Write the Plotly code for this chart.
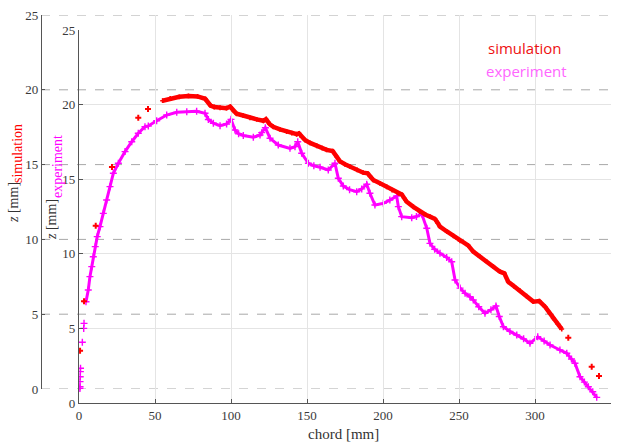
import plotly.graph_objects as go

# ---- data ----
sim_sparse_x = [0.7, 3.3, 11.0, 21.7, 39.0, 45.4, 321.9, 337.3, 342.1]
sim_sparse_y = [2.56, 5.86, 10.92, 14.84, 18.14, 18.72, 3.43, 1.49, 0.87]

sim_x = [55.0, 60.0, 66.0, 72.0, 78.0, 83.0, 86.5, 89.0, 92.8, 97.0, 99.5, 101.5, 103.7,
         108.0, 112.5, 117.0, 121.3, 123.0, 125.5, 127.8, 132.2, 136.6, 140.0, 143.2, 144.7,
         146.5, 148.7, 152.0, 156.4, 160.0, 162.9, 166.9, 169.5, 171.7, 175.0, 178.3, 183.0,
         187.0, 189.9, 191.5, 193.6, 198.0, 202.4, 206.0, 210.1, 212.3, 214.0, 215.6, 220.0,
         224.3, 228.0, 230.9, 234.2, 236.0, 237.5, 242.0, 246.3, 250.7, 256.0, 259.4, 263.8,
         268.2, 272.6, 277.0, 279.8, 282.4, 286.0, 290.1, 294.5, 298.9, 302.8, 306.6, 309.5,
         312.0, 315.0, 317.6]
sim_y = [19.27, 19.42, 19.53, 19.59, 19.56, 19.40, 18.95, 18.85, 18.80, 18.77, 18.87, 18.60, 18.40,
         18.28, 18.12, 18.02, 17.93, 18.03, 17.70, 17.53, 17.36, 17.20, 17.10, 17.03, 17.09,
         16.85, 16.64, 16.45, 16.26, 16.10, 15.98, 15.90, 15.53, 15.22, 15.02, 14.86, 14.65,
         14.46, 14.42, 14.20, 13.97, 13.75, 13.52, 13.30, 13.08, 13.01, 12.75, 12.52, 12.18,
         11.85, 11.65, 11.52, 11.36, 11.10, 10.85, 10.53, 10.23, 9.90, 9.60, 9.18, 8.85,
         8.51, 8.18, 7.84, 7.73, 7.17, 6.88, 6.57, 6.20, 5.84, 5.88, 5.50, 5.10,
         4.72, 4.35, 4.01]

exp_sparse_x = [0.6, 0.7, 0.7, 0.8, 0.9, 1.0, 2.2, 3.1, 3.3]
exp_sparse_y = [0.98, 1.09, 1.43, 1.76, 2.10, 2.33, 4.07, 5.00, 5.34]

exp_x = [4.6, 6.1, 7.2, 8.4, 9.4, 10.7, 12.0, 13.8, 16.0, 18.2, 20.4, 22.6, 25.9, 30.3, 34.7,
         39.0, 43.4, 45.6, 51.1, 57.7, 64.3, 70.9, 77.4, 82.9, 85.1, 88.4, 92.8, 97.1, 100.0,
         102.6, 105.0, 108.1, 114.7, 119.1, 120.2, 122.6, 125.7, 131.1, 138.8, 142.1, 143.9,
         146.5, 150.9, 154.5, 158.6, 164.0, 168.4, 170.6, 173.9, 178.0, 182.7, 186.0, 189.3,
         191.4, 194.7, 200.2, 204.5, 209.0, 210.1, 212.3, 218.9, 222.0, 225.5, 228.8, 230.9,
         234.0, 237.5, 241.9, 245.2, 247.4, 250.7, 254.0, 257.2, 259.4, 263.0, 267.1, 271.0,
         274.3, 276.5, 279.2, 283.5, 288.0, 292.5, 296.7, 301.8, 306.0, 309.9, 316.4, 320.9,
         324.0, 326.3, 329.6, 332.5, 335.1, 338.0, 340.6]
exp_y = [6.79, 7.57, 8.47, 9.14, 9.80, 10.48, 11.15, 11.82, 12.71, 13.61, 14.50, 15.40, 16.07, 16.85, 17.51,
         18.08, 18.52, 18.57, 18.92, 19.30, 19.48, 19.52, 19.55, 19.42, 19.00, 18.75, 18.59, 18.70, 19.01,
         18.30, 18.05, 17.93, 17.81, 17.96, 18.12, 18.45, 17.74, 17.29, 17.07, 17.18, 17.51,
         16.74, 16.07, 15.90, 15.80, 15.62, 16.07, 15.06, 14.54, 14.30, 14.16, 14.35, 14.66,
         14.06, 13.27, 13.38, 13.60, 13.87, 13.16, 12.49, 12.42, 12.50, 12.67, 11.71, 10.70,
         10.30, 10.03, 9.76, 9.47, 8.24, 7.70, 7.35, 7.12, 6.90, 6.45, 6.01, 6.25,
         6.50, 5.80, 5.11, 4.80, 4.56, 4.30, 4.00, 4.44, 4.15, 3.89, 3.55, 3.33,
         2.95, 2.66, 1.76, 1.40, 1.09, 0.75, 0.38]

x_ticks = [0, 50, 100, 150, 200, 250, 300, 350]
y_ticks = [0, 5, 10, 15, 20, 25]

RED = "#ff0000"
MAG = "#ff00ff"
SERIF = "Liberation Serif"

W, H = 619, 443
ML, MR, MT, MB = 41, 8, 15, 40
PW, PH = W - ML - MR, H - MT - MB


def px(xp):
    return (xp - ML) / PW


def py(yp):
    return (H - MB - yp) / PH


fig = go.Figure()

fig.add_trace(go.Scatter(x=exp_sparse_x, y=exp_sparse_y, mode="markers", xaxis="x", yaxis="y",
                         marker=dict(symbol="cross-thin", size=5, line=dict(width=1.4, color=MAG)),
                         showlegend=False, hoverinfo="skip"))
fig.add_trace(go.Scatter(x=exp_x, y=exp_y, mode="lines+markers", xaxis="x", yaxis="y",
                         line=dict(color=MAG, width=3),
                         marker=dict(symbol="cross-thin", size=5, line=dict(width=1.4, color=MAG)),
                         showlegend=False, hoverinfo="skip"))
fig.add_trace(go.Scatter(x=sim_sparse_x, y=sim_sparse_y, mode="markers", xaxis="x", yaxis="y2",
                         marker=dict(symbol="cross", size=5, color=RED),
                         showlegend=False, hoverinfo="skip"))
fig.add_trace(go.Scatter(x=sim_x, y=sim_y, mode="lines+markers", xaxis="x", yaxis="y2",
                         line=dict(color=RED, width=4.5),
                         marker=dict(symbol="cross", size=4, color=RED),
                         showlegend=False, hoverinfo="skip"))

shapes = []
for v in y_ticks:
    shapes.append(dict(type="line", xref="paper", x0=0, x1=px(612), yref="y2", y0=v, y1=v,
                       line=dict(color="#a8a8a8", width=1, dash="dash"), layer="below"))

tickfont = dict(family=SERIF, size=13, color="#3a3a3a")

fig.update_layout(
    width=W, height=H,
    margin=dict(l=ML, r=MR, t=MT, b=MB, autoexpand=False),
    paper_bgcolor="white",
    plot_bgcolor="rgba(0,0,0,0)",
    showlegend=False,
    xaxis=dict(domain=[px(79), 1], range=[0, 350], anchor="y", tickvals=x_ticks,
               ticks="inside", ticklen=4, tickcolor="#555", showline=True, linecolor="#555",
               linewidth=1.3, showgrid=True, gridcolor="#e4e4e4", gridwidth=1, zeroline=False,
               tickfont=tickfont),
    yaxis=dict(domain=[0, py(30)], range=[0, 25], anchor="x", tickvals=y_ticks,
               ticks="inside", ticklen=4, tickcolor="#555", showline=True, linecolor="#555",
               linewidth=1.3, showgrid=True, gridcolor="#e4e4e4", gridwidth=1, zeroline=False,
               tickfont=tickfont),
    yaxis2=dict(domain=[py(389), 1], range=[0, 25], anchor="free", position=0, side="left",
                tickvals=y_ticks, ticks="inside", ticklen=3, tickcolor="#555", showline=True,
                linecolor="#555", linewidth=1.3, showgrid=False, zeroline=False,
                tickfont=tickfont),
    shapes=shapes,
)

ann = [
    dict(text="<i>z</i> [mm]", x=px(13), y=py(203), textangle=-90,
         font=dict(family=SERIF, size=14, color="#333333")),
    dict(text="simulation", x=px(18), y=py(154), textangle=-90,
         font=dict(family=SERIF, size=14, color=RED)),
    dict(text="<i>z</i> [mm]", x=px(51), y=py(220), textangle=-90,
         font=dict(family=SERIF, size=14, color="#333333")),
    dict(text="experiment", x=px(57), y=py(167), textangle=-90,
         font=dict(family=SERIF, size=14, color=MAG)),
    dict(text="chord [mm]", x=px(343), y=py(434),
         font=dict(family=SERIF, size=15, color="#333333")),
    dict(text="simulation", x=px(525), y=py(48),
         font=dict(family="Open Sans", size=15, color="#ee1111")),
    dict(text="experiment", x=px(526), y=py(71),
         font=dict(family="Open Sans", size=15, color="#ff66ff")),
]
for a in ann:
    a.update(xref="paper", yref="paper", showarrow=False, xanchor="center", yanchor="middle")
fig.update_layout(annotations=ann)

fig.write_html("out.html", config={"displayModeBar": False},
               post_script="document.body.style.margin='0';document.body.style.padding='0';")
